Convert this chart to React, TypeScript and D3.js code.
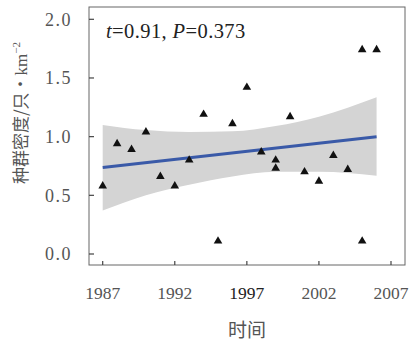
import React from 'react';
import * as d3 from 'd3';

const years = [1987, 1988, 1989, 1990, 1991, 1992, 1993, 1994, 1995, 1996, 1997, 1998, 1999, 1999, 2000, 2001, 2002, 2003, 2004, 2005, 2005, 2006];
const density = [0.58, 0.94, 0.89, 1.04, 0.66, 0.58, 0.8, 1.19, 0.11, 1.11, 1.42, 0.87, 0.8, 0.73, 1.17, 0.7, 0.62, 0.84, 0.72, 1.74, 0.11, 1.74];

// fitted line and 95% band
const fitYears = [1987, 2006];
const fitValues = [0.738, 0.999];
const bandYears = [1987, 1990, 1993, 1996, 1999, 2002, 2006];
const bandUpper = [1.1, 1.056, 1.04, 1.045, 1.09, 1.17, 1.335];
const bandLower = [0.37, 0.5, 0.59, 0.66, 0.7, 0.7, 0.667];

const xTicks = [1987, 1992, 1997, 2002, 2007];
const yTicks = [0, 0.5, 1, 1.5, 2];

const box = { left: 89, top: 7, right: 405, bottom: 265 };

const App: React.FC = () => {
  const x = d3.scaleLinear().domain([1987, 2007]).range([102.7, 391]);
  const y = d3.scaleLinear().domain([0, 2]).range([254, 19.3]);

  const area = d3
    .area<number>()
    .x((_d, i) => x(bandYears[i]))
    .y0((_d, i) => y(bandLower[i]))
    .y1((d) => y(d))
    .curve(d3.curveMonotoneX);

  const line = d3
    .line<number>()
    .x((_d, i) => x(fitYears[i]))
    .y((d) => y(d));

  const tri = d3.symbol().type(d3.symbolTriangle).size(32)();

  return (
    <svg width={410} height={342} style={{ position: 'absolute', left: 0, top: 0 }} fontFamily="'Liberation Serif', serif">
      <path d={area(bandUpper) || ''} fill="#d4d4d4" />
      <path d={line(fitValues) || ''} fill="none" stroke="#3a5aa8" strokeWidth={3} />
      {years.map((yr, i) => (
        <path key={i} d={tri || ''} transform={`translate(${x(yr)},${y(density[i])})`} fill="#111" />
      ))}
      <rect
        x={box.left}
        y={box.top}
        width={box.right - box.left}
        height={box.bottom - box.top}
        fill="none"
        stroke="#666"
        strokeWidth={1}
      />
      {yTicks.map((t) => (
        <g key={t}>
          <line x1={box.left} x2={box.left + 5} y1={y(t)} y2={y(t)} stroke="#444" strokeWidth={1.2} />
          <text x={72} y={y(t)} dy="0.35em" textAnchor="end" fontSize={18} letterSpacing={1.5} fill="#555">
            {t.toFixed(1)}
          </text>
        </g>
      ))}
      {xTicks.map((t) => (
        <g key={t}>
          <line x1={x(t)} x2={x(t)} y1={box.bottom} y2={box.bottom - 4} stroke="#444" strokeWidth={1.2} />
          <text x={x(t)} y={299} textAnchor="middle" fontSize={17.5} fill={t === 1997 ? '#222' : '#555'}>
            {t}
          </text>
        </g>
      ))}
      <text x={106} y={38} fontSize={20.5} letterSpacing={0.4} fill="#222">
        <tspan fontStyle="italic">t</tspan>
        <tspan>=0.91, </tspan>
        <tspan fontStyle="italic">P</tspan>
        <tspan>=0.373</tspan>
      </text>
      <text transform="translate(27,113) rotate(-90)" textAnchor="middle" fontSize={17} fill="#555">
        <tspan fontFamily="'Noto Sans CJK SC', sans-serif">种群密度/只•</tspan>
        <tspan>km</tspan>
        <tspan dy={-7} fontSize={11}>−2</tspan>
      </text>
      <text x={247} y={337} textAnchor="middle" fontSize={19} fill="#555" fontFamily="'Noto Sans CJK SC', sans-serif">
        时间
      </text>
    </svg>
  );
};

export default App;
